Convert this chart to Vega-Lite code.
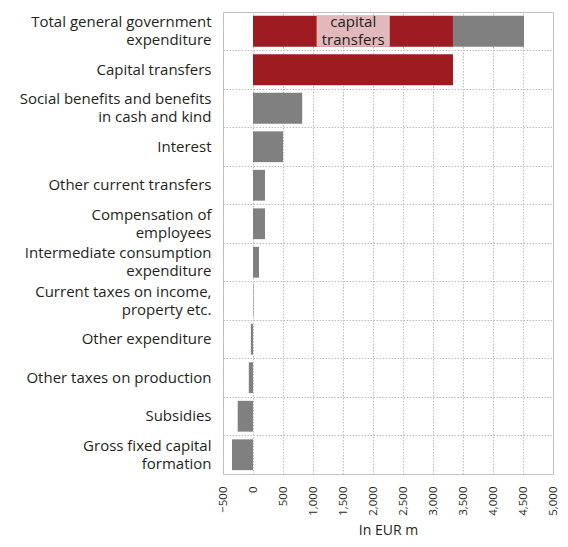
{
  "$schema": "https://vega.github.io/schema/vega-lite/v6.json",
  "width": 330,
  "height": 462,
  "autosize": {"type": "none"},
  "padding": {"left": 223, "top": 12, "right": 15, "bottom": 73},
  "config": {
    "font": "Open Sans",
    "view": {"stroke": "#c4c4c4", "strokeWidth": 1},
    "axisX": {
      "titleFontSize": 14,
      "titleFontWeight": "normal",
      "titleColor": "#231f20",
      "titlePadding": 8,
      "labelOverlap": false,
      "labelAngle": 270,
      "labelFontSize": 11.5,
      "labelColor": "#231f20",
      "labelPadding": 12,
      "domain": false,
      "ticks": false,
      "grid": true,
      "gridColor": "#bdbdbd",
      "gridDash": [1.5, 1.5],
      "gridWidth": 1
    }
  },
  "datasets": {
    "bars": [
      {"category": "Total general government|expenditure", "part": "capital", "value": 3333},
      {"category": "Total general government|expenditure", "part": "other", "value": 1184},
      {"category": "Capital transfers", "part": "capital", "value": 3333},
      {"category": "Social benefits and benefits|in cash and kind", "part": "other", "value": 820},
      {"category": "Interest", "part": "other", "value": 500},
      {"category": "Other current transfers", "part": "other", "value": 200},
      {"category": "Compensation of|employees", "part": "other", "value": 200},
      {"category": "Intermediate consumption|expenditure", "part": "other", "value": 100},
      {"category": "Current taxes on income,|property etc.", "part": "other", "value": 8},
      {"category": "Other expenditure", "part": "other", "value": -35},
      {"category": "Other taxes on production", "part": "other", "value": -70},
      {"category": "Subsidies", "part": "other", "value": -255},
      {"category": "Gross fixed capital|formation", "part": "other", "value": -350}
    ],
    "note": [
      {"category": "Total general government|expenditure", "start": 1060, "end": 2280, "mid": 1670, "label": "capital|transfers"}
    ]
  },
  "layer": [
    {
      "data": {"name": "bars"},
      "mark": {"type": "bar", "height": {"band": 0.8}},
      "encoding": {
        "y": {
          "field": "category",
          "type": "nominal",
          "sort": [
            "Total general government|expenditure",
            "Capital transfers",
            "Social benefits and benefits|in cash and kind",
            "Interest",
            "Other current transfers",
            "Compensation of|employees",
            "Intermediate consumption|expenditure",
            "Current taxes on income,|property etc.",
            "Other expenditure",
            "Other taxes on production",
            "Subsidies",
            "Gross fixed capital|formation"
          ],
          "scale": {"paddingInner": 0, "paddingOuter": 0},
          "axis": {
            "title": null,
            "domain": false,
            "ticks": false,
            "bandPosition": 0,
            "grid": true,
            "gridColor": "#bdbdbd",
            "gridDash": [1.5, 1.5],
            "gridWidth": 1,
            "labelPadding": 12,
            "labelFontSize": 15,
            "labelLimit": 300,
            "labelColor": "#231f20",
            "labelLineHeight": 18,
            "labelOffset": {"condition": {"test": "indexof(datum.label, '|') >= 0", "value": -9}, "value": 0},
            "labelExpr": "split(datum.label, '|')"
          }
        },
        "x": {
          "field": "value",
          "type": "quantitative",
          "stack": "zero",
          "scale": {"domain": [-500, 5000], "nice": false, "zero": false},
          "axis": {
            "title": "In EUR m",
            "values": [-500, 0, 500, 1000, 1500, 2000, 2500, 3000, 3500, 4000, 4500, 5000],
            "format": ",d"
          }
        },
        "color": {
          "field": "part",
          "type": "nominal",
          "scale": {"domain": ["capital", "other"], "range": ["#9e1b22", "#808080"]},
          "legend": null
        },
        "order": {"field": "part", "sort": "ascending"}
      }
    },
    {
      "data": {"name": "note"},
      "mark": {"type": "bar", "height": {"band": 0.8}, "color": "#e2b9ba"},
      "encoding": {
        "y": {"field": "category", "type": "nominal", "sort": null},
        "x": {"field": "start", "type": "quantitative", "axis": {"title": "In EUR m", "values": [-500, 0, 500, 1000, 1500, 2000, 2500, 3000, 3500, 4000, 4500, 5000], "format": ",d"}},
        "x2": {"field": "end"}
      }
    },
    {
      "data": {"name": "note"},
      "mark": {"type": "text", "fontSize": 15, "color": "#231f20", "lineHeight": 18, "baseline": "middle", "dy": -9},
      "encoding": {
        "y": {"field": "category", "type": "nominal", "sort": null},
        "x": {"field": "mid", "type": "quantitative", "axis": {"title": "In EUR m", "values": [-500, 0, 500, 1000, 1500, 2000, 2500, 3000, 3500, 4000, 4500, 5000], "format": ",d"}},
        "text": {"field": "label"}
      },
      "transform": [{"calculate": "split(datum.label, '|')", "as": "label"}]
    },
    {
      "mark": {"type": "rule", "color": "#ababab", "strokeWidth": 2},
      "encoding": {"x": {"datum": 0, "type": "quantitative", "axis": {"title": "In EUR m", "values": [-500, 0, 500, 1000, 1500, 2000, 2500, 3000, 3500, 4000, 4500, 5000], "format": ",d"}}}
    }
  ]
}
